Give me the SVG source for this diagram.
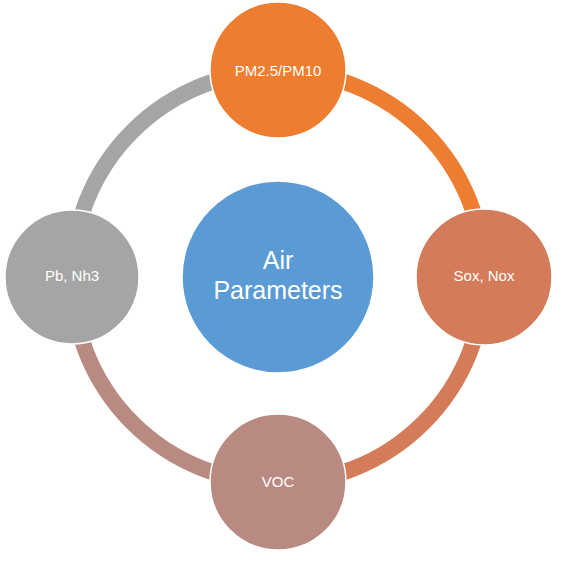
<svg xmlns="http://www.w3.org/2000/svg" width="572" height="562" viewBox="0 0 572 562">
<style>
.arc{fill:none;stroke-width:16}
.node{stroke:#ffffff;stroke-width:1.5}
.lbl{font-family:"Liberation Sans",Arial,sans-serif;font-size:15px;fill:#ffffff;text-anchor:middle}
.big{font-family:"Liberation Sans",Arial,sans-serif;font-size:25px;fill:#ffffff;text-anchor:middle}
</style>
<rect width="572" height="562" fill="#ffffff"/>
<g id="connectors">
<path class="arc" stroke="#ED7D31" d="M 278 71 A 206 206 0 0 1 484 277"/>
<path class="arc" stroke="#D47B59" d="M 484 277 A 206 206 0 0 1 278 483"/>
<path class="arc" stroke="#B98A82" d="M 278 483 A 206 206 0 0 1 72 277"/>
<path class="arc" stroke="#A5A5A5" d="M 72 277 A 206 206 0 0 1 278 71"/>
</g>
<g id="center">
<circle class="node" cx="278" cy="277" r="96" fill="#5B9BD5"/>
<text class="big" x="278" y="269">Air</text>
<text class="big" x="278" y="299">Parameters</text>
</g>
<g id="pm">
<circle class="node" cx="278" cy="70" r="68" fill="#ED7D31"/>
<text class="lbl" x="278" y="76">PM2.5/PM10</text>
</g>
<g id="sox">
<circle class="node" cx="484" cy="277" r="68" fill="#D47B59"/>
<text class="lbl" x="484" y="281">Sox, Nox</text>
</g>
<g id="voc">
<circle class="node" cx="278" cy="482" r="68" fill="#B98A82"/>
<text class="lbl" x="278" y="487">VOC</text>
</g>
<g id="pb">
<circle class="node" cx="72" cy="277" r="67" fill="#A5A5A5"/>
<text class="lbl" x="72" y="281">Pb, Nh3</text>
</g>
</svg>
